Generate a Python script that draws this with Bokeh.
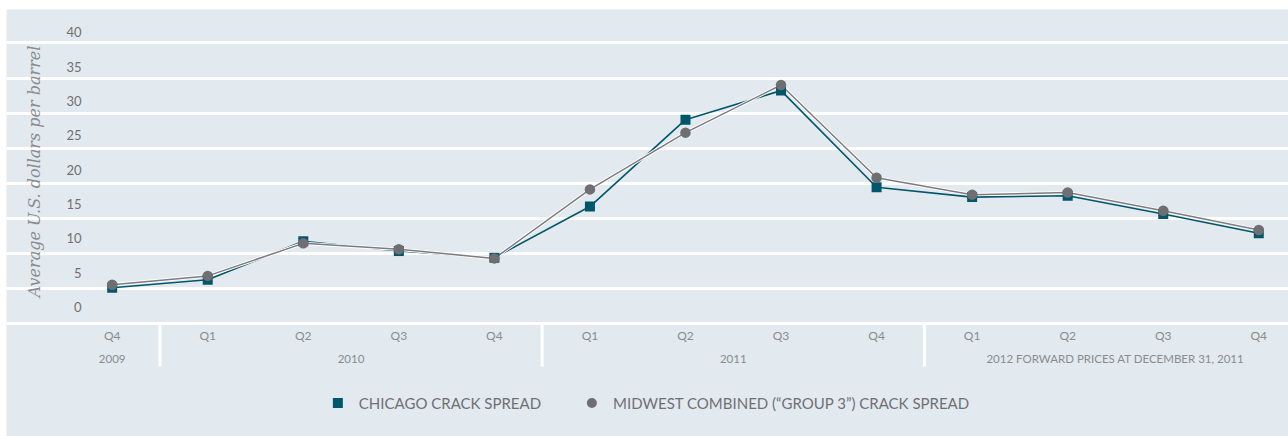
import numpy as np
from bokeh.plotting import figure
from bokeh.models import (Range1d, LinearAxis, FixedTicker, Legend, LegendItem,
                          ColumnDataSource)
from bokeh.embed import file_html
from bokeh.resources import INLINE

# --- data -------------------------------------------------------------
quarters = ["Q4", "Q1", "Q2", "Q3", "Q4", "Q1", "Q2", "Q3", "Q4",
            "Q1", "Q2", "Q3", "Q4"]
year_groups = ["2009", "2010", "2011", "2012 FORWARD PRICES AT DECEMBER 31, 2011"]
group_sizes = [1, 4, 4, 4]

chicago = [5.05, 6.2, 11.7, 10.3, 9.35, 16.65, 29.05, 33.2, 19.4,
           18.0, 18.2, 15.6, 12.85]
midwest = [5.5, 6.75, 11.4, 10.55, 9.25, 19.1, 27.2, 34.0, 20.75,
           18.35, 18.65, 16.05, 13.3]

y_ticks = [0, 5, 10, 15, 20, 25, 30, 35, 40]

# --- styling ----------------------------------------------------------
BG = "#e2eaef"
TEAL = "#00566a"
GREY = "#6e6e73"
GREY_LINE = "#7c7c80"
LABEL = "#6f7074"
LIGHT_LABEL = "#8a8b8e"
FONT = "Lato"

x = np.arange(len(quarters))
source = ColumnDataSource(dict(x=x, chicago=chicago, midwest=midwest))

# group geometry derived from the group sizes
edges = np.cumsum([0] + group_sizes)
group_centers = [float((edges[i] + edges[i + 1] - 1) / 2) for i in range(len(group_sizes))]
separators = [float(e - 0.5) for e in edges[1:-1]]

# the frame holds the plot, the category band and the legend
p = figure(
    frame_width=1282, frame_height=427,
    x_range=Range1d(-1.106, 12.311),
    y_range=Range1d(-16.174, 44.78),
    output_backend="svg", toolbar_location=None,
    min_border=0,
    background_fill_color=BG, border_fill_color=BG,
    outline_line_color=None,
)
p.styles = {"margin-left": "6px", "margin-top": "9px"}

# horizontal grid
p.yaxis.visible = False
p.ygrid.ticker = FixedTicker(ticks=y_ticks)
p.ygrid.grid_line_color = "white"
p.ygrid.grid_line_width = 3
p.xgrid.visible = False

# value labels sit in the band just above each grid line
p.extra_y_ranges = {"band": Range1d(-18.807, 43.30)}
yax = LinearAxis(
    y_range_name="band",
    ticker=FixedTicker(ticks=y_ticks),
    fixed_location=-0.227,
    bounds=(-3.83, 43.30),
    axis_line_color=None,
    major_tick_line_color=None, minor_tick_line_color=None,
    major_label_standoff=3,
    major_label_text_font=FONT, major_label_text_font_size="13px",
    major_label_text_color=LABEL,
    axis_label="Average U.S. dollars per barrel",
    axis_label_text_font="DejaVu Serif",
    axis_label_text_font_style="italic",
    axis_label_text_font_size="16px",
    axis_label_text_color=LIGHT_LABEL,
    axis_label_standoff=19,
)
p.add_layout(yax, "left")

# quarter axis, just under the zero line
qax = p.xaxis[0]
qax.fixed_location = -0.328
qax.ticker = FixedTicker(ticks=[int(i) for i in x])
qax.major_label_overrides = {int(i): q for i, q in zip(x, quarters)}
qax.axis_line_color = None
qax.major_tick_line_color = None
qax.minor_tick_line_color = None
qax.major_tick_out = 0
qax.major_tick_in = 0
qax.minor_tick_in = 0
qax.minor_tick_out = 0
qax.major_label_standoff = 3
qax.major_label_text_font = FONT
qax.major_label_text_font_size = "12px"
qax.major_label_text_color = LIGHT_LABEL

# year axis
yrax = LinearAxis(
    fixed_location=-3.326,
    ticker=FixedTicker(ticks=group_centers),
    major_label_overrides={c: y for c, y in zip(group_centers, year_groups)},
    axis_line_color=None,
    major_tick_line_color=None, major_tick_out=0, major_tick_in=0,
    minor_tick_line_color=None, minor_tick_in=0, minor_tick_out=0,
    major_label_standoff=6,
    major_label_text_font=FONT, major_label_text_font_size="11.5px",
    major_label_text_color=LIGHT_LABEL,
)
p.add_layout(yrax, "below")

# white separators between the year groups
p.segment(x0=separators, x1=separators,
          y0=[-0.19] * len(separators), y1=[-6.18] * len(separators),
          line_color="white", line_width=3)

# series
p.line("x", "chicago", source=source, line_color=TEAL, line_width=1.6)
p.line("x", "midwest", source=source, line_color="white", line_width=3.2)
p.line("x", "midwest", source=source, line_color=GREY_LINE, line_width=1.5)
sq = p.scatter("x", "chicago", source=source, marker="square", size=10,
               fill_color=TEAL, line_color=None)
ci = p.scatter("x", "midwest", source=source, marker="circle", size=10.5,
               fill_color=GREY, line_color=None)

legend = Legend(
    items=[LegendItem(label="CHICAGO CRACK SPREAD", renderers=[sq]),
           LegendItem(label="MIDWEST COMBINED (\u201cGROUP 3\u201d) CRACK SPREAD", renderers=[ci])],
    orientation="horizontal", location="bottom_center",
    glyph_width=25, glyph_height=25, label_standoff=9, spacing=38,
    padding=5, margin=21,
    background_fill_alpha=0, border_line_color=None,
    label_text_font=FONT, label_text_font_size="15px", label_text_color=LABEL,
)
p.add_layout(legend)

open("out.html", "w").write(file_html(p, INLINE))
